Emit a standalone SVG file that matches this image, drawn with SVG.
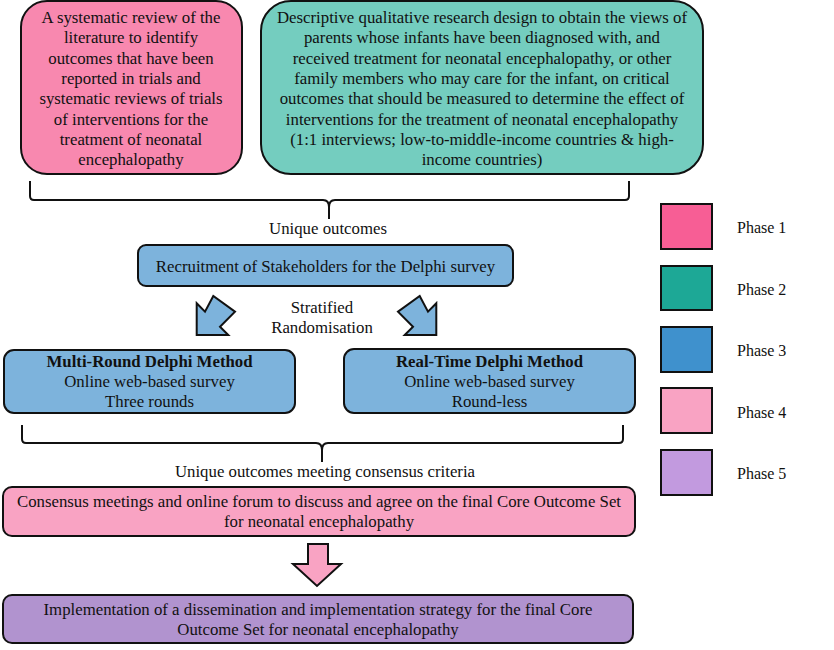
<svg xmlns="http://www.w3.org/2000/svg" width="834" height="650" viewBox="0 0 834 650">
<style>
  text { font-family: "Liberation Serif", "Times New Roman", serif; font-size: 16.8px; fill: #111; }
  .c { text-anchor: middle; }
  .b { font-weight: bold; }
  .lt { font-size: 16px; }
  .box { stroke: #111; stroke-width: 2; }
  .leg { stroke: #111; stroke-width: 2; }
  .br { fill: none; stroke: #111; stroke-width: 2; }
  .arr { stroke: #111; stroke-width: 2; stroke-linejoin: miter; }
</style>
<rect width="834" height="650" fill="#fff"/>

<g id="phase1-review">
  <rect class="box" x="21" y="1" width="221" height="173" rx="26" fill="#F888AF"/>
  <text class="c" x="131" y="23">A systematic review of the</text>
  <text class="c" x="131" y="43.3">literature to identify</text>
  <text class="c" x="131" y="63.6">outcomes that have been</text>
  <text class="c" x="131" y="83.9">reported in trials and</text>
  <text class="c" x="131" y="104.2">systematic reviews of trials</text>
  <text class="c" x="131" y="124.5">of interventions for the</text>
  <text class="c" x="131" y="144.8">treatment of neonatal</text>
  <text class="c" x="131" y="165.1">encephalopathy</text>
</g>

<g id="phase2-qualitative">
  <rect class="box" x="261" y="1" width="442" height="173" rx="30" fill="#74CDBF"/>
  <text class="c" x="482" y="23">Descriptive qualitative research design to obtain the views of</text>
  <text class="c" x="482" y="43.3">parents whose infants have been diagnosed with, and</text>
  <text class="c" x="482" y="63.6">received treatment for neonatal encephalopathy, or other</text>
  <text class="c" x="482" y="83.9">family members who may care for the infant, on critical</text>
  <text class="c" x="482" y="104.2">outcomes that should be measured to determine the effect of</text>
  <text class="c" x="482" y="124.5">interventions for the treatment of neonatal encephalopathy</text>
  <text class="c" x="482" y="144.8">(1:1 interviews; low-to-middle-income countries &amp; high-</text>
  <text class="c" x="482" y="165.1">income countries)</text>
</g>

<g id="connectors">
  <path class="br" d="M30,181 V196 Q30,200 34,200 H323 Q329,200 329,207 Q329,200 335,200 H625 Q629,200 629,196 V181"/>
  <path class="br" d="M329,205 V219"/>
  <path class="br" d="M22,425 V439 Q22,443 26,443 H316 Q322,443 322,450 Q322,443 328,443 H619 Q623,443 623,439 V425"/>
  <path class="br" d="M322,448 V462"/>
  <polygon class="arr" fill="#7DB3DC" points="196.7,335 196.7,303.3 205,311.7 213.3,296 235,311.7 220,326.7 228.3,335"/>
  <polygon class="arr" fill="#7DB3DC" points="436.3,335 436.3,303.3 428,311.7 419.7,296 398,311.7 413,326.7 404.7,335"/>
  <polygon class="arr" fill="#F9A3C3" points="308,544 328,544 328,564 341,564 317,586 293,564 308,564"/>
</g>

<g id="label-unique">
  <text class="c" x="328" y="234">Unique outcomes</text>
</g>

<g id="phase3-recruitment">
  <rect class="box" x="138" y="245" width="375" height="41" rx="8" fill="#7DB3DC"/>
  <text class="c" x="325.5" y="272">Recruitment of Stakeholders for the Delphi survey</text>
</g>

<g id="label-randomisation">
  <text class="c" x="322" y="313">Stratified</text>
  <text class="c" x="322" y="333">Randomisation</text>
</g>

<g id="phase3-multiround">
  <rect class="box" x="4" y="350" width="291" height="63" rx="10" fill="#7DB3DC"/>
  <text class="c b" x="149.5" y="367">Multi-Round Delphi Method</text>
  <text class="c" x="149.5" y="387">Online web-based survey</text>
  <text class="c" x="149.5" y="407">Three rounds</text>
</g>

<g id="phase3-realtime">
  <rect class="box" x="344" y="349" width="291" height="64" rx="10" fill="#7DB3DC"/>
  <text class="c b" x="489.5" y="367">Real-Time Delphi Method</text>
  <text class="c" x="489.5" y="387">Online web-based survey</text>
  <text class="c" x="489.5" y="407">Round-less</text>
</g>

<g id="label-consensus">
  <text class="c" x="325" y="477">Unique outcomes meeting consensus criteria</text>
</g>

<g id="phase4-consensus">
  <rect class="box" x="3" y="487" width="632" height="49" rx="9" fill="#F9A3C3"/>
  <text class="c" x="319" y="507">Consensus meetings and online forum to discuss and agree on the final Core Outcome Set</text>
  <text class="c" x="319" y="527">for neonatal encephalopathy</text>
</g>

<g id="phase5-implementation">
  <rect class="box" x="3" y="595" width="630" height="48" rx="9" fill="#B193CF"/>
  <text class="c" x="318" y="615">Implementation of a dissemination and implementation strategy for the final Core</text>
  <text class="c" x="318" y="635">Outcome Set for neonatal encephalopathy</text>
</g>

<g id="legend">
  <rect class="leg" x="661" y="204" width="51" height="45" fill="#F75E95"/>
  <text class="lt" x="737" y="233">Phase 1</text>
  <rect class="leg" x="661" y="266" width="51" height="44" fill="#1DA896"/>
  <text class="lt" x="737" y="294.5">Phase 2</text>
  <rect class="leg" x="661" y="327" width="51" height="45" fill="#3F91CD"/>
  <text class="lt" x="737" y="356">Phase 3</text>
  <rect class="leg" x="661" y="388" width="51" height="45" fill="#F9A3C3"/>
  <text class="lt" x="737" y="417.5">Phase 4</text>
  <rect class="leg" x="661" y="450" width="51" height="45" fill="#C29ADF"/>
  <text class="lt" x="737" y="479">Phase 5</text>
</g>
</svg>
